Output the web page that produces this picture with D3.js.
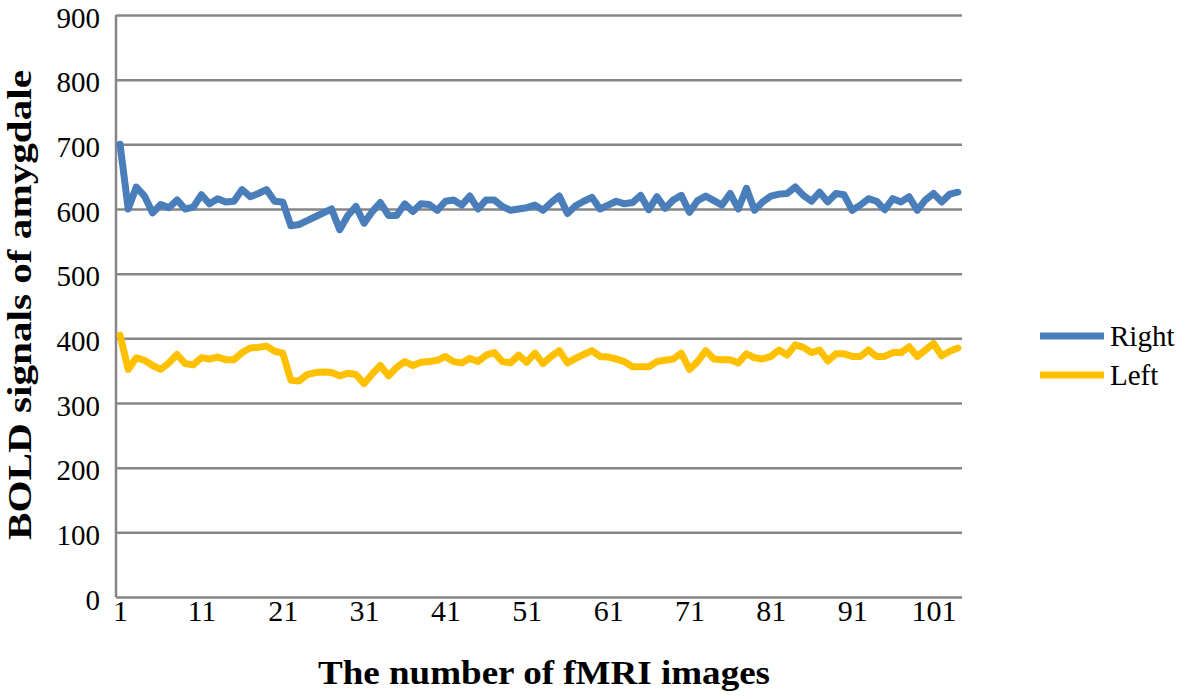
<!DOCTYPE html>
<html>
<head>
<meta charset="utf-8">
<script src="https://cdn.jsdelivr.net/npm/d3@7"></script>
<style>
  body { margin: 0; background: #fff; }
  svg { display: block; }
  text { font-family: "Liberation Serif", "Times New Roman", serif; fill: #000; }
</style>
</head>
<body>
<div id="vis"></div>
<script>
const FRAME_WIDTH = 1200;
const FRAME_HEIGHT = 699;
const MARGINS = {left: 116, right: 238, top: 15, bottom: 102};

// BOLD signal per fMRI image (1..104)
const right = [700,600,634,620,594,607,602,614,600,603,
  622,608,616,611,612,630,619,624,630,612,
  611,574,576,582,588,594,600,568,590,604,
  578,596,610,590,590,608,596,608,607,598,
  612,614,606,620,600,614,614,604,598,600,
  602,606,598,610,620,593,605,612,618,600,
  606,612,608,610,621,599,619,601,614,621,
  595,613,620,613,606,624,600,632,598,611,
  620,623,624,634,621,612,626,611,624,622,
  598,606,616,612,599,616,611,619,598,614,
  624,611,623,626];

const left = [405,352,370,366,358,352,362,375,361,359,
  370,368,371,367,367,378,385,386,388,380,
  377,335,334,344,347,348,347,342,346,344,
  330,345,358,342,355,364,358,363,364,366,
  372,364,362,369,364,374,378,364,362,374,
  363,377,361,372,381,362,369,375,381,372,
  371,368,364,356,356,356,364,366,368,377,
  352,364,381,368,367,367,362,376,370,368,
  372,382,374,390,386,378,382,365,376,376,
  372,372,382,372,372,378,378,387,372,382,
  392,373,380,385];

const images = d3.range(1, right.length + 1);
const xTicks = [1, 11, 21, 31, 41, 51, 61, 71, 81, 91, 101];
const yTicks = [0, 100, 200, 300, 400, 500, 600, 700, 800, 900];

const series = [
  {name: "Right", values: right, color: "#4a7ebb"},
  {name: "Left", values: left, color: "#ffc000"}
];

const VIS_WIDTH = FRAME_WIDTH - MARGINS.left - MARGINS.right;
const VIS_HEIGHT = FRAME_HEIGHT - MARGINS.top - MARGINS.bottom;

const FRAME = d3.select("#vis")
  .append("svg")
    .attr("width", FRAME_WIDTH)
    .attr("height", FRAME_HEIGHT);

const X_SCALE = d3.scalePoint()
  .domain(images)
  .range([0, VIS_WIDTH])
  .padding(0.5);

const Y_SCALE = d3.scaleLinear()
  .domain([0, 900])
  .range([VIS_HEIGHT, 0]);

const plot = FRAME.append("g")
  .attr("transform", "translate(" + MARGINS.left + "," + MARGINS.top + ")");

// gridlines + y labels
const yAxis = plot.append("g")
  .call(d3.axisLeft(Y_SCALE).tickValues(yTicks).tickSize(-VIS_WIDTH).tickPadding(16));
yAxis.select(".domain").remove();
yAxis.selectAll("line").attr("stroke", "#868686").attr("stroke-width", 2.5);
yAxis.selectAll("text")
  .style("font-size", "29px")
  .attr("dy", "0.42em");

// vertical axis line
plot.append("line")
  .attr("x1", 0).attr("x2", 0)
  .attr("y1", Y_SCALE(900)).attr("y2", Y_SCALE(0))
  .attr("stroke", "#868686")
  .attr("stroke-width", 2.5);

const xAxis = plot.append("g")
  .attr("transform", "translate(0," + VIS_HEIGHT + ")")
  .call(d3.axisBottom(X_SCALE).tickValues(xTicks).tickSize(0).tickPadding(3));
xAxis.select(".domain").remove();
xAxis.selectAll("text")
  .style("font-size", "30px");

const line = d3.line()
  .x((d, i) => X_SCALE(images[i]))
  .y(d => Y_SCALE(d));

plot.selectAll(".series")
  .data(series)
  .enter()
  .append("path")
    .attr("d", d => line(d.values))
    .attr("fill", "none")
    .attr("stroke", d => d.color)
    .attr("stroke-width", 7)
    .attr("stroke-linejoin", "round")
    .attr("stroke-linecap", "round");

// axis titles
FRAME.append("text")
  .attr("transform", "translate(31,305) rotate(-90)")
  .attr("text-anchor", "middle")
  .style("font-weight", "bold")
  .style("font-size", "34px")
  .attr("textLength", 470)
  .attr("lengthAdjust", "spacingAndGlyphs")
  .text("BOLD signals of amygdale");

FRAME.append("text")
  .attr("x", 544)
  .attr("y", 684)
  .attr("text-anchor", "middle")
  .style("font-weight", "bold")
  .style("font-size", "34px")
  .attr("textLength", 452)
  .attr("lengthAdjust", "spacingAndGlyphs")
  .text("The number of fMRI images");

// legend
const legend = FRAME.selectAll(".legend")
  .data(series)
  .enter()
  .append("g")
    .attr("transform", (d, i) => "translate(1040," + (336 + i * 39) + ")");
legend.append("line")
  .attr("x1", 0).attr("x2", 64)
  .attr("stroke", d => d.color)
  .attr("stroke-width", 7);
legend.append("text")
  .attr("x", 70)
  .attr("dy", "0.34em")
  .style("font-size", "29px")
  .text(d => d.name);
</script>
</body>
</html>
